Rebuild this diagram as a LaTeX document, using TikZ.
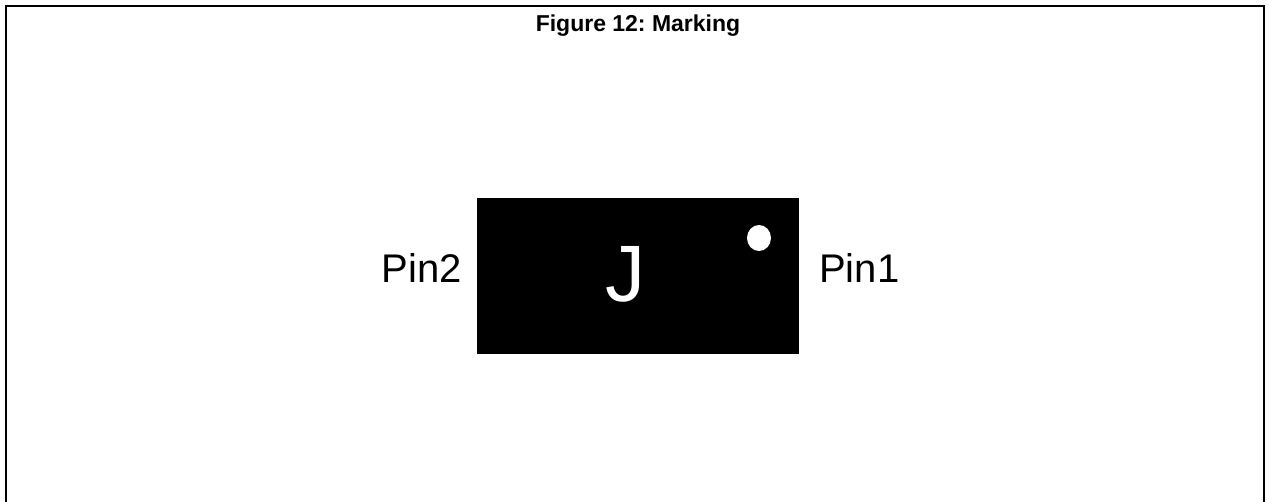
\documentclass[tikz,border=0pt]{standalone}
\usepackage{fontspec}
\setmainfont{Liberation Sans}
\usetikzlibrary{shapes.geometric}
\frenchspacing
\begin{document}
\begin{tikzpicture}[x=1pt,y=-1pt,
  lbl/.style={inner sep=0pt,font=\fontsize{40}{48}\selectfont},
  chip/.style={fill=black,draw=none,minimum width=322pt,minimum height=156pt,inner sep=0pt},
  markdot/.style={ellipse,fill=white,draw=none,minimum width=24pt,minimum height=26pt,inner sep=0pt}]
\useasboundingbox (0,0) rectangle (1269,502);
\draw[line width=2pt] (6,502) |- (1264,6) -- (1264,502);
\node[inner sep=0pt,anchor=base,font=\fontsize{23}{28}\selectfont\bfseries] (title) at (638,32) {Figure 12: Marking};
\node[chip] (body) at (638,276) {};
\node[markdot] (dot) at (759,238) {};
\node[inner sep=0pt,anchor=base,text=white,font=\fontsize{80}{96}\selectfont] (j) at (625.5,302) {J};
\node[lbl,anchor=base east] (pin2) at (462,283) {Pin2};
\node[lbl,anchor=base west] (pin1) at (819,283) {Pin1};
\end{tikzpicture}
\end{document}
